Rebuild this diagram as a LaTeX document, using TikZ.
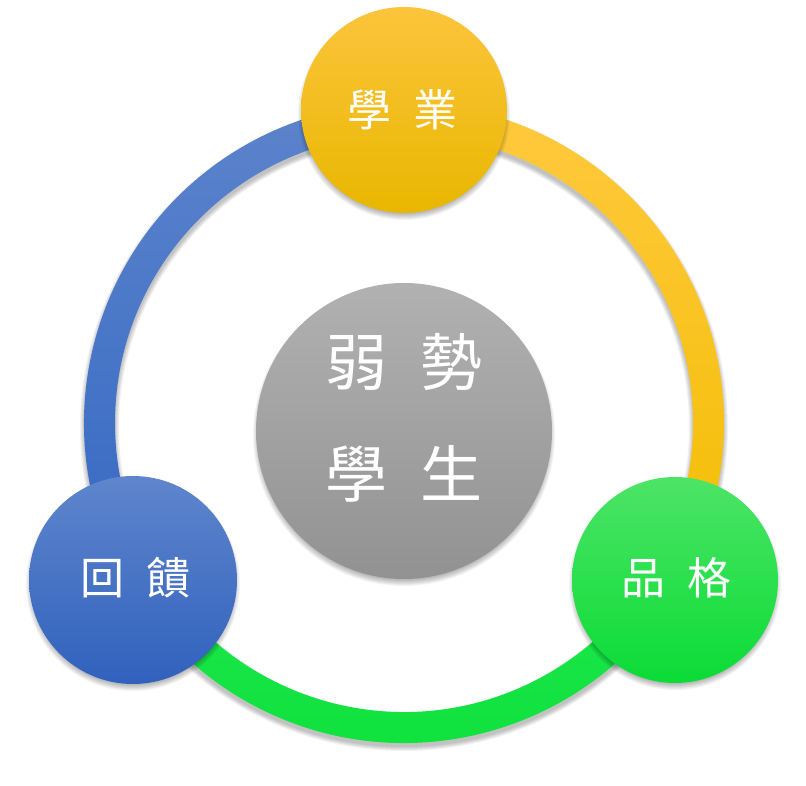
\documentclass[tikz,border=0pt]{standalone}
\usepackage{fontspec}
\newfontfamily\cjk{Noto Sans CJK TC}
\definecolor{ringYT}{HTML}{FFC93F}
\definecolor{ringYB}{HTML}{F3BD00}
\definecolor{ringGT}{HTML}{1EE84D}
\definecolor{ringGB}{HTML}{0CE03A}
\definecolor{ringBT}{HTML}{5D84CC}
\definecolor{ringBB}{HTML}{3468C3}
\definecolor{yT}{HTML}{FCC43C}
\definecolor{yM}{HTML}{FFC700}
\definecolor{yB}{HTML}{E9B700}
\definecolor{bT}{HTML}{5F86CC}
\definecolor{bM}{HTML}{4A76C8}
\definecolor{bB}{HTML}{3061BD}
\definecolor{gT}{HTML}{4DE466}
\definecolor{gM}{HTML}{22E54A}
\definecolor{gB}{HTML}{0ADC36}
\definecolor{kT}{HTML}{B1B1B1}
\definecolor{kB}{HTML}{929292}
\newcommand\mysoftshadow[3]{%
  \foreach \k in {0,...,6}{%
    \fill[black,opacity=0.045] (#1,#2-4) circle[radius=#3pt+3pt-\k pt];}}
\tikzset{
  bubble/.style={circle, inner sep=0pt, text=white},
  smalltext/.style={font=\cjk\fontsize{44}{44}\selectfont},
  bigtext/.style={font=\cjk\fontsize{62}{112}\selectfont, align=center, text=white}
}
\begin{document}
\begin{tikzpicture}[x=1pt,y=1pt]
\useasboundingbox (0,0) rectangle (806,785);
\fill[white] (0,0) rectangle (806,785);
\coordinate (C) at (404,362);
% ring shadow
\foreach \w in {31,33,35,37,39}{%
  \draw[black,opacity=0.05,line width=\w pt] ([yshift=-4pt]C) circle[radius=304.5pt];}
% ring sectors
\path[top color=ringYT, bottom color=ringYB]
  ([shift={(C)}]92:320pt) arc[start angle=92, end angle=-32, radius=320pt]
  -- ([shift={(C)}]-32:289pt) arc[start angle=-32, end angle=92, radius=289pt] -- cycle;
\path[top color=ringGT, bottom color=ringGB]
  ([shift={(C)}]-28:320pt) arc[start angle=-28, end angle=-152, radius=320pt]
  -- ([shift={(C)}]-152:289pt) arc[start angle=-152, end angle=-28, radius=289pt] -- cycle;
\path[top color=ringBT, bottom color=ringBB]
  ([shift={(C)}]212:320pt) arc[start angle=212, end angle=88, radius=320pt]
  -- ([shift={(C)}]88:289pt) arc[start angle=88, end angle=212, radius=289pt] -- cycle;
% shadows of circles
\mysoftshadow{404}{675}{103}
\mysoftshadow{133}{205}{104}
\mysoftshadow{675}{205}{103}
\mysoftshadow{404}{354}{148}
% circles
\node[bubble, minimum size=206pt, top color=yT, middle color=yM, bottom color=yB] (xueye) at (404,675) {};
\node[bubble, minimum size=208pt, top color=bT, middle color=bM, bottom color=bB] (huikui) at (133,205) {};
\node[bubble, minimum size=206pt, top color=gT, middle color=gM, bottom color=gB] (pinge) at (675,205) {};
\node[bubble, minimum size=296pt, top color=kT, bottom color=kB] (center) at (404,354) {};
% labels
\node[smalltext, text=white] (t1) at (402,675) {學\hspace{22pt}業};
\node[smalltext, text=white] (t2) at (135,207) {回\hspace{22pt}饋};
\node[smalltext, text=white] (t3) at (676,207) {品\hspace{22pt}格};
\node[bigtext] (t4) at (404,367) {弱\hspace{33pt}勢\\學\hspace{33pt}生};
\end{tikzpicture}
\end{document}
